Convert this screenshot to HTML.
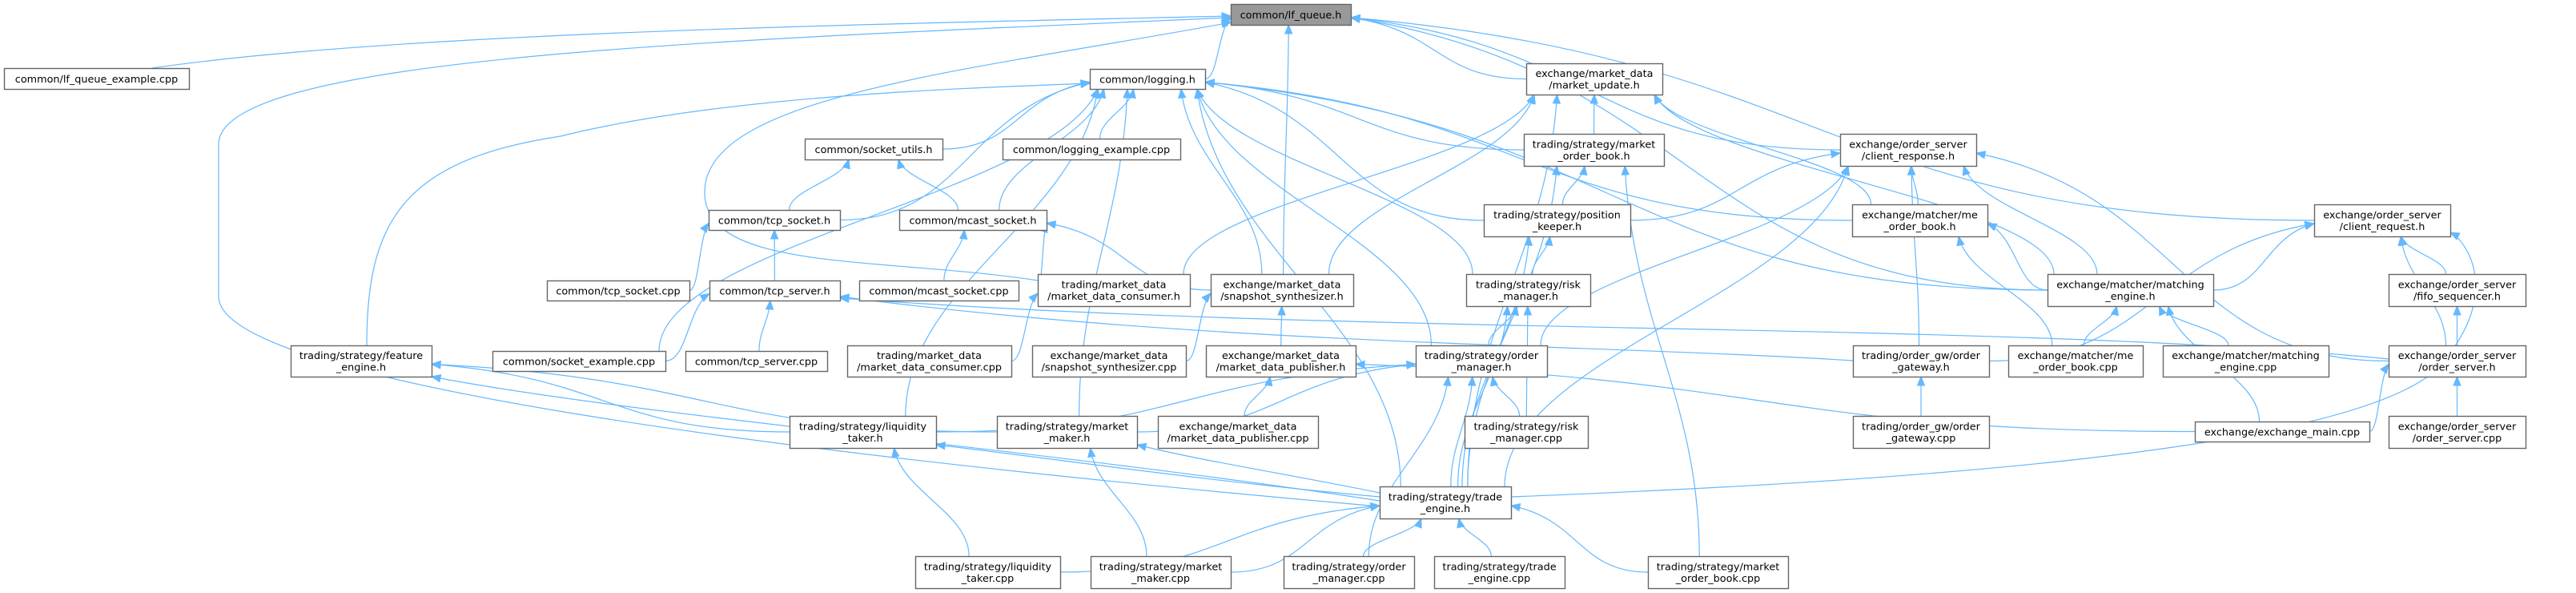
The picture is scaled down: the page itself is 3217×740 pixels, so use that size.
<!DOCTYPE html>
<html><head><meta charset="utf-8">
<style>
html,body{margin:0;padding:0;background:#fff;}
svg{display:block;}
text{font-family:"DejaVu Sans","Liberation Sans",sans-serif;font-size:12.8px;fill:#000;}
</style></head>
<body>
<svg id="g" width="3217" height="740" viewBox="0 0 3217 740" xmlns="http://www.w3.org/2000/svg">
<g id="edges" fill="none" stroke="#63b8ff" stroke-width="1.2"></g>
<g id="heads" fill="#63b8ff" stroke="#63b8ff" stroke-width="1"></g>
<g id="nodes"></g>
</svg>
<script>
var N={
lfq:[1537,1687,5,31,["common/lf_queue.h"],1],
lfqex:[5,236,85,111,["common/lf_queue_example.cpp"]],
log:[1361,1505,86,111,["common/logging.h"]],
mupd:[1906,2076,79,118,["exchange/market_data","/market_update.h"]],
sutil:[1005,1177,173,199,["common/socket_utils.h"]],
logex:[1252,1474,173,199,["common/logging_example.cpp"]],
mob:[1903,2078,167,207,["trading/strategy/market","_order_book.h"]],
cresp:[2298,2468,167,207,["exchange/order_server","/client_response.h"]],
tcps:[885,1049,262,287,["common/tcp_socket.h"]],
mcast:[1123,1307,262,287,["common/mcast_socket.h"]],
pk:[1853,2036,255,295,["trading/strategy/position","_keeper.h"]],
meob:[2313,2482,255,295,["exchange/matcher/me","_order_book.h"]],
creq:[2890,3060,255,295,["exchange/order_server","/client_request.h"]],
tcpscpp:[683,861,350,375,["common/tcp_socket.cpp"]],
tcpsrv:[886,1049,350,375,["common/tcp_server.h"]],
mcastcpp:[1073,1272,350,375,["common/mcast_socket.cpp"]],
mdc:[1296,1486,342,382,["trading/market_data","/market_data_consumer.h"]],
snap:[1512,1690,342,382,["exchange/market_data","/snapshot_synthesizer.h"]],
rm:[1831,1986,342,382,["trading/strategy/risk","_manager.h"]],
me:[2557,2764,342,382,["exchange/matcher/matching","_engine.h"]],
fifo:[2983,3154,342,382,["exchange/order_server","/fifo_sequencer.h"]],
fe:[363,539,431,470,["trading/strategy/feature","_engine.h"]],
sockex:[615,831,438,463,["common/socket_example.cpp"]],
tcpsrvcpp:[856,1033,438,463,["common/tcp_server.cpp"]],
mdccpp:[1058,1263,431,470,["trading/market_data","/market_data_consumer.cpp"]],
snapcpp:[1289,1481,431,470,["exchange/market_data","/snapshot_synthesizer.cpp"]],
mdp:[1506,1693,431,470,["exchange/market_data","/market_data_publisher.h"]],
om:[1768,1932,431,470,["trading/strategy/order","_manager.h"]],
ogw:[2314,2484,431,470,["trading/order_gw/order","_gateway.h"]],
meobcpp:[2508,2676,431,470,["exchange/matcher/me","_order_book.cpp"]],
mecpp:[2701,2908,431,470,["exchange/matcher/matching","_engine.cpp"]],
osrv:[2983,3154,431,470,["exchange/order_server","/order_server.h"]],
lt:[986,1169,519,559,["trading/strategy/liquidity","_taker.h"]],
mm:[1245,1420,519,559,["trading/strategy/market","_maker.h"]],
mdpcpp:[1446,1646,519,559,["exchange/market_data","/market_data_publisher.cpp"]],
rmcpp:[1829,1983,519,559,["trading/strategy/risk","_manager.cpp"]],
ogwcpp:[2314,2484,519,559,["trading/order_gw/order","_gateway.cpp"]],
exmain:[2741,2959,526,551,["exchange/exchange_main.cpp"]],
osrvcpp:[2983,3154,519,559,["exchange/order_server","/order_server.cpp"]],
te:[1723,1887,607,647,["trading/strategy/trade","_engine.h"]],
ltcpp:[1143,1324,694,734,["trading/strategy/liquidity","_taker.cpp"]],
mmcpp:[1362,1537,694,734,["trading/strategy/market","_maker.cpp"]],
omcpp:[1603,1766,694,734,["trading/strategy/order","_manager.cpp"]],
tecpp:[1791,1954,694,734,["trading/strategy/trade","_engine.cpp"]],
mobcpp:[2058,2233,694,734,["trading/strategy/market","_order_book.cpp"]]
};
var E=[
["lfqex","lfq"],["log","lfq"],["mupd","lfq"],["cresp","lfq"],["creq","lfq"],["snap","lfq"],["mdc","lfq"],["te","lfq"],["me","lfq"],
["sutil","log"],["logex","log"],["tcps","log"],["mcast","log"],["snap","log"],["mob","log"],["pk","log"],["rm","log"],["om","log"],["te","log"],["fe","log"],["sockex","log"],["lt","log"],["mm","log"],["meob","log"],["me","log"],
["tcps","sutil"],["mcast","sutil"],["tcpscpp","tcps"],["tcpsrv","tcps"],["sockex","tcpsrv"],["tcpsrvcpp","tcpsrv"],["ogw","tcpsrv"],["osrv","tcpsrv"],
["mcastcpp","mcast"],["mdc","mcast"],["snap","mcast"],["mdp","snap"],["mdccpp","mdc"],["snapcpp","snap"],["mdpcpp","mdp"],["exmain","mdp"],
["mdc","mupd"],["snap","mupd"],["mob","mupd"],["te","mupd"],["meob","mupd"],["me","mupd"],
["pk","mob"],["te","mob"],["mobcpp","mob"],["te","pk"],["rm","pk"],["om","rm"],["te","rm"],["rmcpp","rm"],
["pk","cresp"],["meob","cresp"],["me","cresp"],["osrv","cresp"],["ogw","cresp"],["te","cresp"],["om","cresp"],
["me","meob"],["meobcpp","meob"],["me","creq"],["ogw","creq"],["osrv","creq"],["fifo","creq"],["te","creq"],["osrv","fifo"],
["mecpp","me"],["meobcpp","me"],["exmain","me"],["ogwcpp","ogw"],["exmain","osrv"],["osrvcpp","osrv"],
["lt","om"],["mm","om"],["te","om"],["omcpp","om"],["rmcpp","om"],["lt","fe"],["mm","fe"],["te","fe"],
["ltcpp","lt"],["te","lt"],["mmcpp","mm"],["te","mm"],
["ltcpp","te"],["mmcpp","te"],["omcpp","te"],["tecpp","te"],["mobcpp","te"]
];
var C={
"te>lfq":"M1723,632 C900,560 273,470 273,370 L273,180 C273,70 900,50 1537,22",
"lfqex>lfq":"M190,85 C500,40 1100,30 1537,20",
"fe>log":"M458,431 C458,280 500,200 700,170 C900,120 1200,110 1361,104",
"mdc>lfq":"M1296,350 C1100,320 880,340 880,240 C880,120 1200,90 1537,28",
"te>lt":"M1723,620 C1500,600 1300,570 1169,555",
"te>mm":"M1723,615 C1600,590 1500,575 1420,555",
"te>fe":"M1723,625 C1300,560 800,520 539,470",
"te>creq":"M1887,620 C2400,600 3000,560 3060,440 C3120,360 3080,300 3060,290",
"osrv>tcpsrv":"M2983,448 C2500,400 1700,420 1049,372",
"ogw>tcpsrv":"M2314,450 C2000,430 1500,430 1049,370"
};
function el(t,a,p){var e=document.createElementNS("http://www.w3.org/2000/svg",t);for(var k in a)e.setAttribute(k,a[k]);(p||document.getElementById("nodes")).appendChild(e);return e;}
var EG=document.getElementById("edges"),HG=document.getElementById("heads");
E.forEach(function(e){
 var s=N[e[0]],t=N[e[1]],d,ex,ey,cx,cy;
 var key=e[0]+">"+e[1];
 if(C[key]){d=C[key];var m=d.match(/-?[\d.]+/g).map(Number);var L=m.length;ex=m[L-2];ey=m[L-1];cx=m[L-4];cy=m[L-3];}
 else{
  var scx=(s[0]+s[1])/2,tcx=(t[0]+t[1])/2;
  var sx=scx+(tcx-scx)*0.15, sy=s[2];
  sx=Math.max(s[0]+8,Math.min(s[1]-8,sx));
  ex=tcx+(scx-tcx)*0.25; ex=Math.max(t[0]+10,Math.min(t[1]-10,ex)); ey=t[3];
  var dy=sy-ey;
  if(Math.abs(tcx-scx)>3*dy){ // side attach
    if(tcx>scx){sx=s[1];ex=t[0];}else{sx=s[0];ex=t[1];}
    sy=(s[2]+s[3])/2; ey=(t[2]+t[3])/2+4;
    cx=(sx+ex)/2; cy=ey+(sy-ey)*0.2;
    d="M"+sx+","+sy+" C"+cx+","+sy+" "+cx+","+cy+" "+ex+","+ey;
  } else {
    cx=ex+(sx-ex)*0.1; cy=ey+dy*0.4;
    d="M"+sx+","+sy+" C"+sx+","+(sy-dy*0.4)+" "+cx+","+cy+" "+ex+","+ey;
  }
 }
 el("path",{d:d},EG);
 var ang=Math.atan2(ey-cy,ex-cx),L2=11,W=4.5;
 var bx=ex-L2*Math.cos(ang),by=ey-L2*Math.sin(ang);
 var px=-Math.sin(ang)*W,py=Math.cos(ang)*W;
 el("polygon",{points:ex+","+ey+" "+(bx+px)+","+(by+py)+" "+(bx-px)+","+(by-py)},HG);
});
for(var k in N){var n=N[k];
 el("rect",{x:n[0]+0.5,y:n[2]+0.5,width:n[1]-n[0],height:n[3]-n[2],fill:n[5]?"#999999":"#ffffff",stroke:"#666666","stroke-width":"1.4"});
 var cx=(n[0]+n[1])/2,cy=(n[2]+n[3])/2;
 if(n[4].length==1){var t=el("text",{x:cx,y:cy+5,"text-anchor":"middle"});t.textContent=n[4][0];}
 else{var t1=el("text",{x:cx,y:cy-2.5,"text-anchor":"middle"});t1.textContent=n[4][0];
  var t2=el("text",{x:cx,y:cy+12,"text-anchor":"middle"});t2.textContent=n[4][1];}
}
</script>
</body></html>
